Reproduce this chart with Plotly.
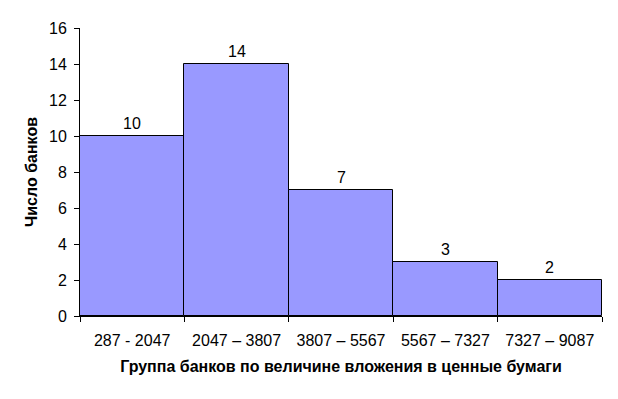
import plotly.graph_objects as go

categories = ["287 - 2047", "2047 – 3807", "3807 – 5567", "5567 – 7327", "7327 – 9087"]
counts = [10, 14, 7, 3, 2]
y_ticks = [0, 2, 4, 6, 8, 10, 12, 14, 16]

font_family = "Liberation Sans, Arial, sans-serif"

# page body has an 8px default margin, so the figure is sized 8px smaller
fig = go.Figure(go.Bar(
    x=categories,
    y=counts,
    marker=dict(color="#9999FF", line=dict(color="black", width=1)),
    cliponaxis=False,
))

for c, v in zip(categories, counts):
    fig.add_annotation(
        x=c, y=v, text=str(v), showarrow=False,
        yanchor="bottom", yshift=2,
        font=dict(size=16, color="black", family=font_family),
    )

fig.update_layout(
    width=610, height=391,
    margin=dict(l=72, r=16, t=20, b=83, autoexpand=False),
    paper_bgcolor="white", plot_bgcolor="white",
    bargap=0,
    font=dict(family=font_family, size=16, color="black"),
    showlegend=False,
    xaxis=dict(
        tickson="boundaries", ticks="outside", ticklen=5, tickcolor="black",
        showline=True, linecolor="black", linewidth=1,
        showgrid=False, automargin=False,
        tickfont=dict(size=16), ticklabelstandoff=10,
        title=dict(text="<b>Группа банков по величине вложения в ценные бумаги</b>",
                   font=dict(size=16), standoff=12),
    ),
    yaxis=dict(
        range=[0, 16], tickvals=y_ticks, ticks="outside", ticklen=5, tickcolor="black",
        showline=True, linecolor="black", linewidth=1,
        showgrid=False, zeroline=False, automargin=False,
        tickfont=dict(size=16), ticklabelstandoff=4,
        title=dict(text="<b>Число банков</b>", font=dict(size=16), standoff=7),
    ),
)

fig.write_html("out.html")
